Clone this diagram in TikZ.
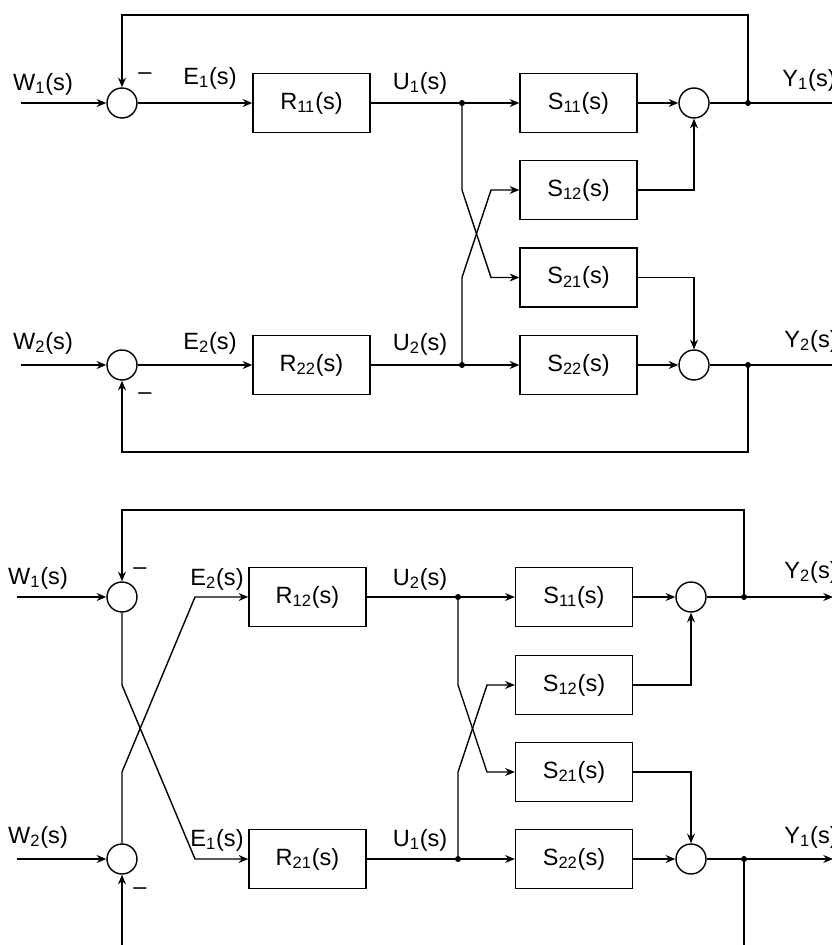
\documentclass[tikz,border=0pt]{standalone}
\usepackage{fontspec}
\setmainfont{Liberation Sans}
\usetikzlibrary{arrows.meta}

\begin{document}
\begin{tikzpicture}[x=0.02cm, y=-0.02cm, thick,
    >={Stealth[length=5.5pt,width=4.5pt]},
    font=\fontsize{13.4}{16}\selectfont,
    block/.style={draw, minimum width=2.34cm, minimum height=1.18cm, inner sep=0pt},
    summer/.style={draw, circle, minimum size=0.6cm, inner sep=0pt},
    dot/.style={fill, circle, minimum size=3.4pt, inner sep=0pt}]
    \useasboundingbox (0,0) rectangle (831,945);

    % 上图：求和点与方框
    \node[summer] (s1) at (122,103) {};
    \node[summer] (s2) at (122,365) {};
    \node[summer] (s3) at (694,103) {};
    \node[summer] (s4) at (694,365) {};
    \node[block] (R11) at (311.5,103) {R\textsubscript{11}(s)};
    \node[block] (R22) at (311.5,365) {R\textsubscript{22}(s)};
    \node[block] (S11) at (578.5,103) {S\textsubscript{11}(s)};
    \node[block] (S12) at (578.5,190) {S\textsubscript{12}(s)};
    \node[block] (S21) at (578.5,277.5) {S\textsubscript{21}(s)};
    \node[block] (S22) at (578.5,365) {S\textsubscript{22}(s)};

    % 上图：分支点、折点
    \coordinate (w1) at (21,103);
    \coordinate (w2) at (21,365);
    \node[dot] (u1) at (462,103) {};
    \node[dot] (u2) at (462,365) {};
    \node[dot] (y1) at (748,103) {};
    \node[dot] (y2) at (748,365) {};
    \coordinate (y1e) at (845,103);
    \coordinate (y2e) at (845,365);
    \coordinate (fb1) at (122,15);
    \coordinate (fb2) at (122,452);
    \coordinate (k1) at (462,190);
    \coordinate (k2) at (491,277.5);
    \coordinate (k3) at (462,277.5);
    \coordinate (k4) at (491,190);

    % 上图：连线
    \draw[->] (w1) -- (s1);
    \draw[->] (w2) -- (s2);
    \draw[->] (s1) -- (R11);
    \draw[->] (s2) -- (R22);
    \draw (R11) -- (u1.center);
    \draw (R22) -- (u2.center);
    \draw[->] (u1.center) -- (S11);
    \draw[->] (u2.center) -- (S22);
    \draw[->] (u1.center) -- (k1) -- (k2) -- (S21);
    \draw[->] (u2.center) -- (k3) -- (k4) -- (S12);
    \draw[->] (S11) -- (s3);
    \draw[->] (S22) -- (s4);
    \draw[->] (S12) -| (s3);
    \draw[->] (S21) -| (s4);
    \draw (s3) -- (y1.center);
    \draw (s4) -- (y2.center);
    \draw[->] (y1.center) -- (y1e);
    \draw[->] (y2.center) -- (y2e);
    \draw[->] (y1.center) |- (fb1) -- (s1);
    \draw[->] (y2.center) |- (fb2) -- (s2);

    % 上图：标注
    \node (lw1) at (43,84) {W\textsubscript{1}(s)};
    \node (lw2) at (43,343) {W\textsubscript{2}(s)};
    \node (le1) at (210,78) {E\textsubscript{1}(s)};
    \node (le2) at (210,343) {E\textsubscript{2}(s)};
    \node (lu1) at (420,83) {U\textsubscript{1}(s)};
    \node (lu2) at (420,344) {U\textsubscript{2}(s)};
    \node (ly1) at (809,80) {Y\textsubscript{1}(s)};
    \node (ly2) at (811,341) {Y\textsubscript{2}(s)};
    \node (m1) at (145,76) {--};
    \node (m2) at (145,396) {--};

    % 下图：求和点与方框
    \node[summer] (t1) at (122,597) {};
    \node[summer] (t2) at (122,859) {};
    \node[summer] (t3) at (691,597) {};
    \node[summer] (t4) at (691,859) {};
    \node[block] (R12) at (307.5,597) {R\textsubscript{12}(s)};
    \node[block] (R21) at (307.5,859) {R\textsubscript{21}(s)};
    \node[block] (T11) at (574,597) {S\textsubscript{11}(s)};
    \node[block] (T12) at (574,685) {S\textsubscript{12}(s)};
    \node[block] (T21) at (574,772) {S\textsubscript{21}(s)};
    \node[block] (T22) at (574,859) {S\textsubscript{22}(s)};

    % 下图：分支点、折点
    \coordinate (v1) at (17,597);
    \coordinate (v2) at (17,859);
    \coordinate (c1) at (122,685);
    \coordinate (c2) at (195,859);
    \coordinate (c3) at (122,772);
    \coordinate (c4) at (195,597);
    \node[dot] (p1) at (458,597) {};
    \node[dot] (p2) at (458,859) {};
    \coordinate (j1) at (458,685);
    \coordinate (j2) at (487,772);
    \coordinate (j3) at (458,772);
    \coordinate (j4) at (487,685);
    \node[dot] (q1) at (744,597) {};
    \node[dot] (q2) at (744,859) {};
    \coordinate (q1e) at (833,597);
    \coordinate (q2e) at (833,859);
    \coordinate (fb3) at (122,510);
    \coordinate (b1) at (744,950);
    \coordinate (b2) at (122,950);

    % 下图：连线
    \draw[->] (v1) -- (t1);
    \draw[->] (v2) -- (t2);
    \draw[->] (t1) -- (c1) -- (c2) -- (R21);
    \draw[->] (t2) -- (c3) -- (c4) -- (R12);
    \draw (R12) -- (p1.center);
    \draw (R21) -- (p2.center);
    \draw[->] (p1.center) -- (T11);
    \draw[->] (p2.center) -- (T22);
    \draw[->] (p1.center) -- (j1) -- (j2) -- (T21);
    \draw[->] (p2.center) -- (j3) -- (j4) -- (T12);
    \draw[->] (T11) -- (t3);
    \draw[->] (T22) -- (t4);
    \draw[->] (T12) -| (t3);
    \draw[->] (T21) -| (t4);
    \draw (t3) -- (q1.center);
    \draw (t4) -- (q2.center);
    \draw[->] (q1.center) -- (q1e);
    \draw[->] (q2.center) -- (q2e);
    \draw[->] (q1.center) |- (fb3) -- (t1);
    \draw (q2.center) -- (b1);
    \draw[->] (b2) -- (t2);

    % 下图：标注
    \node (mw1) at (38,578) {W\textsubscript{1}(s)};
    \node (mw2) at (38,837) {W\textsubscript{2}(s)};
    \node (me2) at (217,579) {E\textsubscript{2}(s)};
    \node (me1) at (217,840) {E\textsubscript{1}(s)};
    \node (mu2) at (420,579) {U\textsubscript{2}(s)};
    \node (mu1) at (420,840) {U\textsubscript{1}(s)};
    \node (my2) at (811,572) {Y\textsubscript{2}(s)};
    \node (my1) at (811,837) {Y\textsubscript{1}(s)};
    \node (m3) at (140,571) {--};
    \node (m4) at (140,891) {--};
\end{tikzpicture}
\end{document}
